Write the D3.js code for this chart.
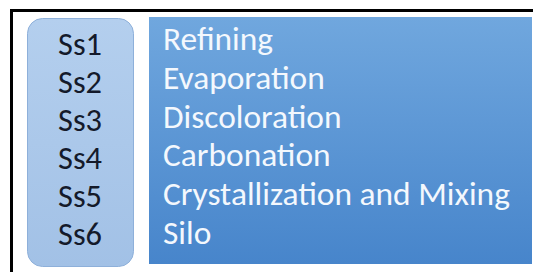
<!DOCTYPE html>
<html>
<head>
<meta charset="utf-8">
<script src="https://cdn.jsdelivr.net/npm/d3@7"></script>
<style>
  html, body { margin: 0; padding: 0; background: #fff; }
  svg { display: block; }
  text { font-family: Carlito, Calibri, Lato, "Open Sans", sans-serif; }
</style>
</head>
<body>
<svg id="chart" width="533" height="272"></svg>
<script>
// ---- data ----
const codes = ["Ss1", "Ss2", "Ss3", "Ss4", "Ss5", "Ss6"];
const stages = ["Refining", "Evaporation", "Discoloration", "Carbonation", "Crystallization and Mixing", "Silo"];

const W = 533, H = 272;
const svg = d3.select("#chart");

const defs = svg.append("defs");
const g1 = defs.append("linearGradient").attr("id", "leftGrad").attr("x1", 0).attr("y1", 0).attr("x2", 0).attr("y2", 1);
g1.append("stop").attr("offset", "0%").attr("stop-color", "#b4cfee");
g1.append("stop").attr("offset", "100%").attr("stop-color", "#a2c1e6");
const g2 = defs.append("linearGradient").attr("id", "rightGrad").attr("x1", 0).attr("y1", 0).attr("x2", 0).attr("y2", 1);
g2.append("stop").attr("offset", "0%").attr("stop-color", "#70a7de");
g2.append("stop").attr("offset", "100%").attr("stop-color", "#4785cb");

// outer frame (extends beyond right/bottom edges)
svg.append("rect")
  .attr("x", 11.5).attr("y", 10.5).attr("width", 540).attr("height", 280)
  .attr("fill", "#fff").attr("stroke", "#000").attr("stroke-width", 3);

// left rounded box
svg.append("rect")
  .attr("x", 27.5).attr("y", 18.5).attr("width", 106).attr("height", 248)
  .attr("rx", 15).attr("ry", 15)
  .attr("fill", "url(#leftGrad)").attr("stroke", "#8eb0da").attr("stroke-width", 1);

// right box
svg.append("rect")
  .attr("x", 149).attr("y", 17).attr("width", 383).attr("height", 247)
  .attr("fill", "url(#rightGrad)");

// scales
const yLeft = d3.scalePoint().domain(codes).range([55, 245]);
const yRight = d3.scalePoint().domain(stages).range([50, 244]);

// fit font sizes to measured widths
function fitSize(text, targetWidth) {
  const t = svg.append("text").attr("font-size", 100).text(text);
  const w = t.node().getComputedTextLength();
  t.remove();
  return 100 * targetWidth / w;
}
const leftSize = fitSize("Ss1", 44);
const rightSize = fitSize("Crystallization and Mixing", 347);

svg.append("g").selectAll("text").data(codes).join("text")
  .attr("x", 80).attr("y", d => yLeft(d))
  .attr("text-anchor", "middle")
  .attr("font-size", leftSize)
  .attr("fill", "#141a2a")
  .text(d => d);

svg.append("g").selectAll("text").data(stages).join("text")
  .attr("x", 163).attr("y", d => yRight(d))
  .attr("font-size", rightSize)
  .attr("fill", "#f4f8fd")
  .text(d => d);
</script>
</body>
</html>
